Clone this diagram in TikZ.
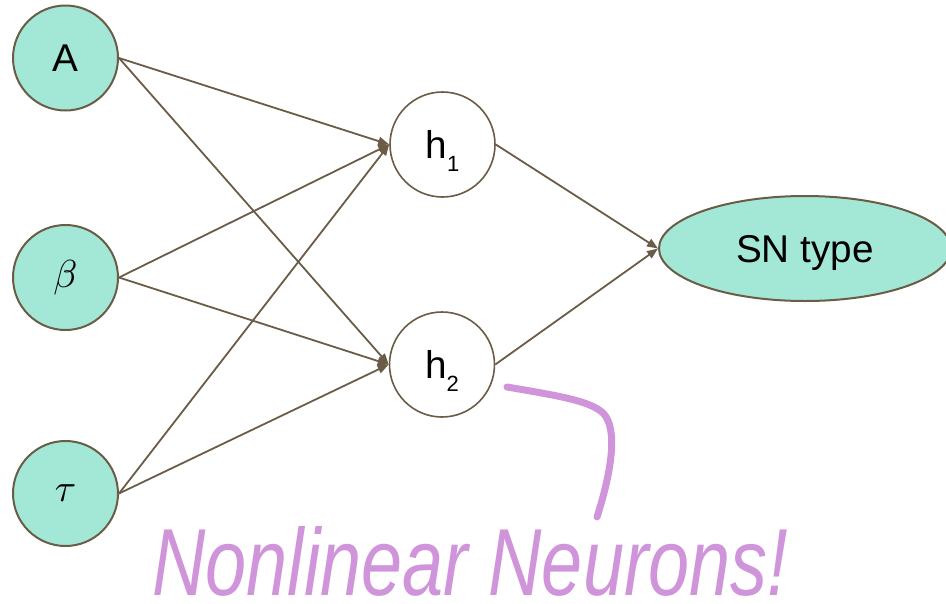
\documentclass[tikz,border=0pt]{standalone}
\usepackage{graphicx}
\usepackage{fontspec}
\setmainfont{Liberation Sans}
\usetikzlibrary{arrows.meta,shapes.geometric}
\definecolor{edgebrown}{RGB}{106,92,70}
\definecolor{mint}{RGB}{163,232,215}
\definecolor{lilac}{RGB}{207,148,218}
% Greek labels: math at normal size, enlarged as a whole
\newcommand{\bigmath}[1]{\scalebox{3.9}{\normalsize$#1$}}
\begin{document}
\begin{tikzpicture}[x=1pt,y=-1pt,
  labelfont/.style={font=\fontsize{38.7}{40}\selectfont},
  inputnode/.style={circle, draw=edgebrown, fill=mint, line width=2pt,
    minimum size=105pt, inner sep=0pt, labelfont},
  hiddennode/.style={circle, draw=edgebrown, fill=white, line width=1.6pt,
    minimum size=105pt, inner sep=0pt, labelfont},
  outputnode/.style={ellipse, draw=edgebrown, fill=mint, line width=2pt,
    minimum width=292pt, minimum height=105pt, inner sep=0pt,
    text height=27.7pt, text depth=0pt, labelfont},
  wire/.style={draw=edgebrown, line width=1.8pt,
    -{Triangle[length=11pt,width=8.5pt]}},
  note/.style={draw=lilac, line width=7pt, line cap=round}]
\useasboundingbox (0,0) rectangle (946,603);
\clip (0,0) rectangle (946,603);

% input layer
\node[inputnode] (A) at (65.5,58) {A};
\node[inputnode] (B) at (65.5,277.5) {\bigmath{\beta}};
\node[inputnode] (T) at (65.5,493.5) {\raisebox{-3pt}{\bigmath{\tau}}};

% hidden layer
\node[hiddennode] (h1) at (442.5,144.5)
  {\raisebox{-13.5pt}[0pt][0pt]{h\raisebox{-13pt}{\fontsize{22}{22}\selectfont 1}}};
\node[hiddennode] (h2) at (442,364.5)
  {\raisebox{-13.5pt}[0pt][0pt]{h\raisebox{-13pt}{\fontsize{22}{22}\selectfont 2}}};

% output
\node[outputnode] (SN) at (805,248.5) {SN type};

% connections
\foreach \src in {A,B,T}{
  \draw[wire] (\src.east) -- (h1.west);
  \draw[wire] (\src.east) -- (h2.west);
}
\draw[wire] (h1.east) -- (SN.west);
\draw[wire] (h2.east) -- (SN.west);

% hand-drawn callout
\coordinate (c0) at (507,387);
\coordinate (c1) at (597,517);
\draw[note] (c0) .. controls (560,396) and (590,401) .. (603,413)
  .. controls (618,428) and (612,470) .. (c1);
\node[lilac, anchor=base west, inner sep=0pt] (remark) at (152,595)
  {\resizebox{636pt}{69pt}{\itshape Nonlinear Neurons!}};
\end{tikzpicture}
\end{document}
